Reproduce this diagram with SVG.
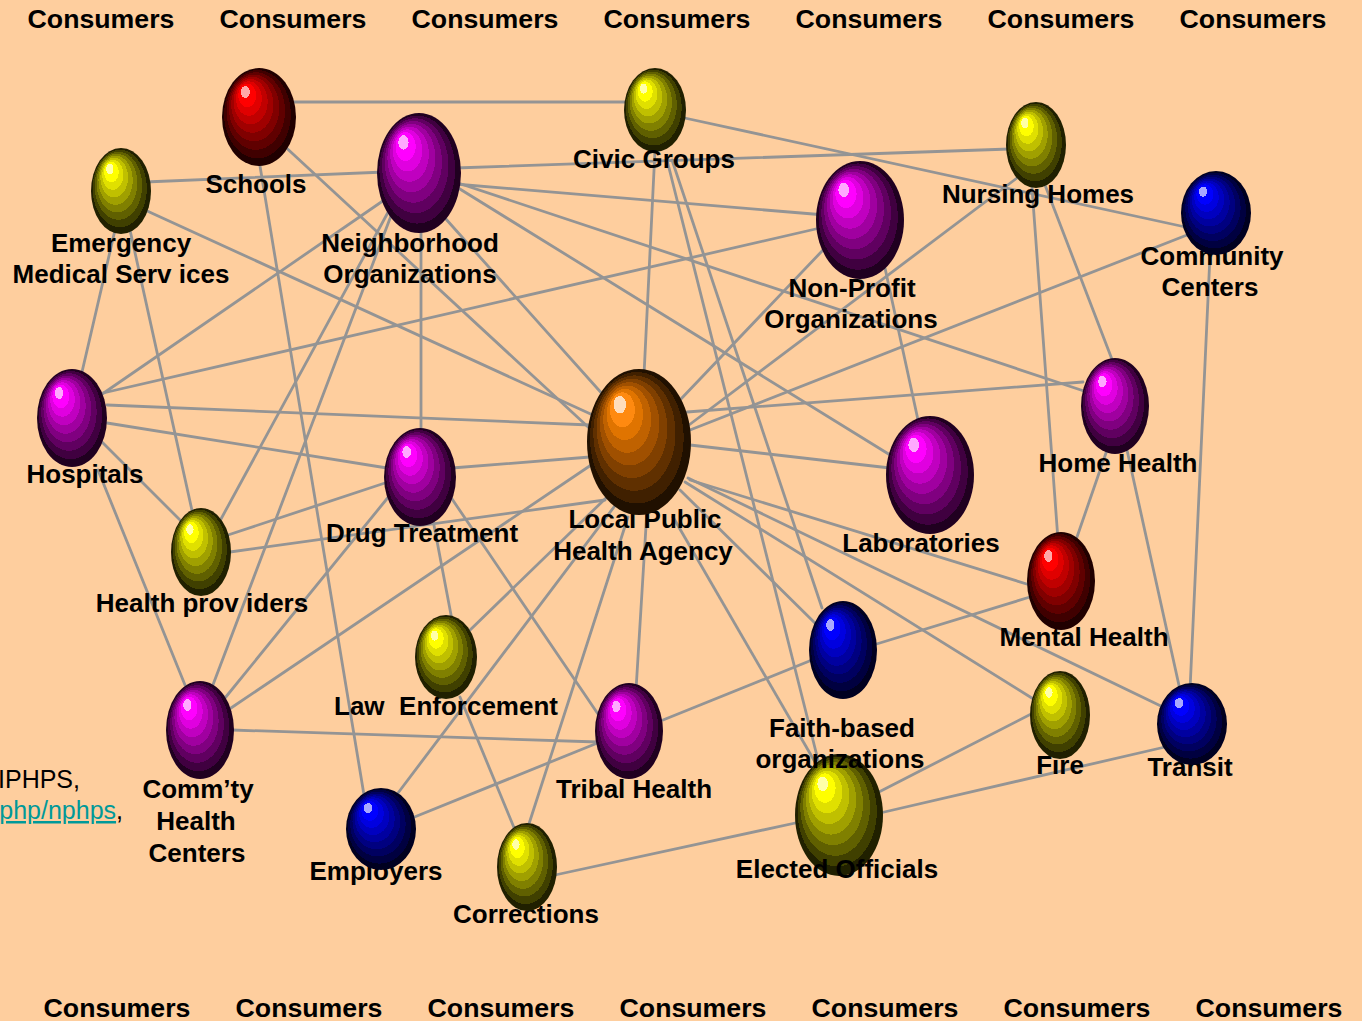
<svg xmlns="http://www.w3.org/2000/svg" width="1362" height="1021" viewBox="0 0 1362 1021">
<style>
.c{stroke:#949494;stroke-width:2.8;stroke-linecap:round;fill:none}
.t{font-family:"Liberation Sans",Arial,sans-serif;font-weight:bold;font-size:26px;text-anchor:middle;fill:#000}
.k{font-family:"Liberation Sans",Arial,sans-serif;font-weight:bold;font-size:26.7px;text-anchor:middle;fill:#000}
.n{font-family:"Liberation Sans",Arial,sans-serif;font-size:25px;text-anchor:end}
</style>
<defs>
<radialGradient id="gY" cx="0.5" cy="0.5" r="0.5" fx="0.29" fy="0.21">
<stop offset="0" stop-color="#FFFFA8"/><stop offset="0.12" stop-color="#FFFFA8"/>
<stop offset="0.12" stop-color="#FFFF00"/><stop offset="0.24" stop-color="#FFFF00"/>
<stop offset="0.24" stop-color="#E0E000"/><stop offset="0.35" stop-color="#E0E000"/>
<stop offset="0.35" stop-color="#C0C000"/><stop offset="0.46" stop-color="#C0C000"/>
<stop offset="0.46" stop-color="#A0A000"/><stop offset="0.57" stop-color="#A0A000"/>
<stop offset="0.57" stop-color="#808000"/><stop offset="0.68" stop-color="#808000"/>
<stop offset="0.68" stop-color="#606000"/><stop offset="0.79" stop-color="#606000"/>
<stop offset="0.79" stop-color="#404000"/><stop offset="0.9" stop-color="#404000"/>
<stop offset="0.9" stop-color="#202000"/><stop offset="1" stop-color="#202000"/>
</radialGradient>
<radialGradient id="gP" cx="0.5" cy="0.5" r="0.5" fx="0.29" fy="0.21">
<stop offset="0" stop-color="#FFA8FF"/><stop offset="0.12" stop-color="#FFA8FF"/>
<stop offset="0.12" stop-color="#FF00FF"/><stop offset="0.24" stop-color="#FF00FF"/>
<stop offset="0.24" stop-color="#E000E0"/><stop offset="0.35" stop-color="#E000E0"/>
<stop offset="0.35" stop-color="#C000C0"/><stop offset="0.46" stop-color="#C000C0"/>
<stop offset="0.46" stop-color="#A000A0"/><stop offset="0.57" stop-color="#A000A0"/>
<stop offset="0.57" stop-color="#800080"/><stop offset="0.68" stop-color="#800080"/>
<stop offset="0.68" stop-color="#600060"/><stop offset="0.79" stop-color="#600060"/>
<stop offset="0.79" stop-color="#400040"/><stop offset="0.9" stop-color="#400040"/>
<stop offset="0.9" stop-color="#200020"/><stop offset="1" stop-color="#200020"/>
</radialGradient>
<radialGradient id="gR" cx="0.5" cy="0.5" r="0.5" fx="0.29" fy="0.21">
<stop offset="0" stop-color="#FFA8A8"/><stop offset="0.12" stop-color="#FFA8A8"/>
<stop offset="0.12" stop-color="#FF0000"/><stop offset="0.24" stop-color="#FF0000"/>
<stop offset="0.24" stop-color="#E00000"/><stop offset="0.35" stop-color="#E00000"/>
<stop offset="0.35" stop-color="#C00000"/><stop offset="0.46" stop-color="#C00000"/>
<stop offset="0.46" stop-color="#A00000"/><stop offset="0.57" stop-color="#A00000"/>
<stop offset="0.57" stop-color="#800000"/><stop offset="0.68" stop-color="#800000"/>
<stop offset="0.68" stop-color="#600000"/><stop offset="0.79" stop-color="#600000"/>
<stop offset="0.79" stop-color="#400000"/><stop offset="0.9" stop-color="#400000"/>
<stop offset="0.9" stop-color="#200000"/><stop offset="1" stop-color="#200000"/>
</radialGradient>
<radialGradient id="gB" cx="0.5" cy="0.5" r="0.5" fx="0.29" fy="0.21">
<stop offset="0" stop-color="#A8A8FF"/><stop offset="0.12" stop-color="#A8A8FF"/>
<stop offset="0.12" stop-color="#0000FF"/><stop offset="0.24" stop-color="#0000FF"/>
<stop offset="0.24" stop-color="#0000E0"/><stop offset="0.35" stop-color="#0000E0"/>
<stop offset="0.35" stop-color="#0000C0"/><stop offset="0.46" stop-color="#0000C0"/>
<stop offset="0.46" stop-color="#0000A0"/><stop offset="0.57" stop-color="#0000A0"/>
<stop offset="0.57" stop-color="#000080"/><stop offset="0.68" stop-color="#000080"/>
<stop offset="0.68" stop-color="#000060"/><stop offset="0.79" stop-color="#000060"/>
<stop offset="0.79" stop-color="#000040"/><stop offset="0.9" stop-color="#000040"/>
<stop offset="0.9" stop-color="#000020"/><stop offset="1" stop-color="#000020"/>
</radialGradient>
<radialGradient id="gO" cx="0.5" cy="0.5" r="0.5" fx="0.29" fy="0.21">
<stop offset="0" stop-color="#FFDDBB"/><stop offset="0.12" stop-color="#FFDDBB"/>
<stop offset="0.12" stop-color="#FF8A10"/><stop offset="0.24" stop-color="#FF8A10"/>
<stop offset="0.24" stop-color="#E07400"/><stop offset="0.35" stop-color="#E07400"/>
<stop offset="0.35" stop-color="#C06200"/><stop offset="0.46" stop-color="#C06200"/>
<stop offset="0.46" stop-color="#A05000"/><stop offset="0.57" stop-color="#A05000"/>
<stop offset="0.57" stop-color="#804000"/><stop offset="0.68" stop-color="#804000"/>
<stop offset="0.68" stop-color="#603000"/><stop offset="0.79" stop-color="#603000"/>
<stop offset="0.79" stop-color="#402000"/><stop offset="0.9" stop-color="#402000"/>
<stop offset="0.9" stop-color="#201000"/><stop offset="1" stop-color="#201000"/>
</radialGradient>
</defs>
<rect x="0" y="0" width="1362" height="1021" fill="#FECE9E"/>

<g id="consumers-top">
<text class="k" x="101" y="27.5">Consumers</text>
<text class="k" x="293" y="27.5">Consumers</text>
<text class="k" x="485" y="27.5">Consumers</text>
<text class="k" x="677" y="27.5">Consumers</text>
<text class="k" x="869" y="27.5">Consumers</text>
<text class="k" x="1061" y="27.5">Consumers</text>
<text class="k" x="1253" y="27.5">Consumers</text>
</g>
<g id="consumers-bottom">
<text class="k" x="117" y="1017">Consumers</text>
<text class="k" x="309" y="1017">Consumers</text>
<text class="k" x="501" y="1017">Consumers</text>
<text class="k" x="693" y="1017">Consumers</text>
<text class="k" x="885" y="1017">Consumers</text>
<text class="k" x="1077" y="1017">Consumers</text>
<text class="k" x="1269" y="1017">Consumers</text>
</g>
<g id="source">
<text class="n" x="80" y="788" fill="#000">IPHPS,</text>
<text class="n" x="123" y="819" fill="#009999" text-decoration="underline">php/nphps<tspan fill="#000">,</tspan></text>
</g>

<g id="connectors">
<line class="c" x1="290" y1="102" x2="630" y2="102"/>
<line class="c" x1="259" y1="160" x2="364" y2="795"/>
<line class="c" x1="280" y1="142" x2="600" y2="438"/>
<line class="c" x1="145" y1="182" x2="385" y2="172"/>
<line class="c" x1="115" y1="230" x2="82" y2="372"/>
<line class="c" x1="130" y1="230" x2="193" y2="515"/>
<line class="c" x1="145" y1="210" x2="595" y2="416"/>
<line class="c" x1="390" y1="196" x2="95" y2="399"/>
<line class="c" x1="392" y1="205" x2="215" y2="530"/>
<line class="c" x1="397" y1="200" x2="211" y2="690"/>
<line class="c" x1="421" y1="225" x2="421" y2="435"/>
<line class="c" x1="445" y1="218" x2="605" y2="397"/>
<line class="c" x1="455" y1="168" x2="1010" y2="149"/>
<line class="c" x1="455" y1="184" x2="825" y2="215"/>
<line class="c" x1="455" y1="182" x2="1090" y2="393"/>
<line class="c" x1="455" y1="186" x2="895" y2="458"/>
<line class="c" x1="680" y1="117" x2="1190" y2="228"/>
<line class="c" x1="655" y1="150" x2="644" y2="375"/>
<line class="c" x1="667" y1="160" x2="818" y2="760"/>
<line class="c" x1="672" y1="160" x2="822" y2="608"/>
<line class="c" x1="1017" y1="178" x2="685" y2="428"/>
<line class="c" x1="1032" y1="188" x2="1058" y2="540"/>
<line class="c" x1="1045" y1="185" x2="1113" y2="362"/>
<line class="c" x1="1187" y1="235" x2="690" y2="430"/>
<line class="c" x1="1210" y1="255" x2="1190" y2="690"/>
<line class="c" x1="820" y1="228" x2="103" y2="393"/>
<line class="c" x1="823" y1="250" x2="680" y2="400"/>
<line class="c" x1="885" y1="268" x2="918" y2="420"/>
<line class="c" x1="1107" y1="450" x2="1077" y2="537"/>
<line class="c" x1="1127" y1="450" x2="1180" y2="690"/>
<line class="c" x1="1083" y1="382" x2="687" y2="412"/>
<line class="c" x1="107" y1="405" x2="590" y2="425"/>
<line class="c" x1="107" y1="423" x2="387" y2="468"/>
<line class="c" x1="100" y1="440" x2="182" y2="522"/>
<line class="c" x1="98" y1="470" x2="185" y2="685"/>
<line class="c" x1="228" y1="535" x2="388" y2="482"/>
<line class="c" x1="230" y1="552" x2="605" y2="500"/>
<line class="c" x1="452" y1="468" x2="590" y2="457"/>
<line class="c" x1="433" y1="520" x2="452" y2="620"/>
<line class="c" x1="450" y1="496" x2="598" y2="714"/>
<line class="c" x1="390" y1="495" x2="225" y2="698"/>
<line class="c" x1="600" y1="459" x2="228" y2="710"/>
<line class="c" x1="607" y1="497" x2="468" y2="632"/>
<line class="c" x1="617" y1="503" x2="398" y2="793"/>
<line class="c" x1="628" y1="517" x2="527" y2="830"/>
<line class="c" x1="647" y1="510" x2="636" y2="690"/>
<line class="c" x1="673" y1="517" x2="815" y2="762"/>
<line class="c" x1="680" y1="490" x2="820" y2="628"/>
<line class="c" x1="685" y1="482" x2="1035" y2="700"/>
<line class="c" x1="688" y1="478" x2="1165" y2="708"/>
<line class="c" x1="690" y1="480" x2="1030" y2="585"/>
<line class="c" x1="690" y1="445" x2="890" y2="468"/>
<line class="c" x1="663" y1="720" x2="812" y2="660"/>
<line class="c" x1="870" y1="646" x2="1030" y2="597"/>
<line class="c" x1="232" y1="730" x2="598" y2="742"/>
<line class="c" x1="412" y1="818" x2="600" y2="742"/>
<line class="c" x1="460" y1="697" x2="515" y2="830"/>
<line class="c" x1="555" y1="875" x2="800" y2="822"/>
<line class="c" x1="875" y1="794" x2="1035" y2="712"/>
<line class="c" x1="880" y1="813" x2="1165" y2="747"/>
</g>

<g id="schools"><text class="t" x="256" y="193">Schools</text><ellipse cx="259" cy="117" rx="37" ry="49" fill="url(#gR)"/></g>
<g id="civic-groups"><ellipse cx="655" cy="110" rx="31" ry="42" fill="url(#gY)"/><text class="t" x="654" y="168">Civic Groups</text></g>
<g id="nursing-homes"><text class="t" x="1038" y="203">Nursing Homes</text><ellipse cx="1036" cy="145" rx="30" ry="43" fill="url(#gY)"/></g>
<g id="community-centers"><text class="t" x="1212" y="265">Community</text><text class="t" x="1210" y="296">Centers</text><ellipse cx="1216" cy="213" rx="35" ry="42" fill="url(#gB)"/></g>
<g id="ems"><text class="t" x="121" y="252">Emergency</text><text class="t" x="121" y="283">Medical Serv ices</text><ellipse cx="121" cy="191" rx="30" ry="43" fill="url(#gY)"/></g>
<g id="neighborhood"><text class="t" x="410" y="252">Neighborhood</text><text class="t" x="410" y="283">Organizations</text><ellipse cx="419" cy="173" rx="42" ry="60" fill="url(#gP)"/></g>
<g id="non-profit"><text class="t" x="852" y="297">Non-Profit</text><text class="t" x="851" y="328">Organizations</text><ellipse cx="860" cy="220" rx="44" ry="59" fill="url(#gP)"/></g>
<g id="hospitals"><text class="t" x="85" y="483">Hospitals</text><ellipse cx="72" cy="418" rx="35" ry="49" fill="url(#gP)"/></g>
<g id="health-providers"><text class="t" x="202" y="612">Health prov iders</text><ellipse cx="201" cy="552" rx="30" ry="44" fill="url(#gY)"/></g>
<g id="drug-treatment"><text class="t" x="422" y="542">Drug Treatment</text><ellipse cx="420" cy="477" rx="36" ry="49" fill="url(#gP)"/></g>
<g id="lpha"><text class="t" x="645" y="528">Local Public</text><text class="t" x="643" y="560">Health Agency</text><ellipse cx="639" cy="442" rx="52" ry="73" fill="url(#gO)"/></g>
<g id="laboratories"><text class="t" x="921" y="552">Laboratories</text><ellipse cx="930" cy="475" rx="44" ry="59" fill="url(#gP)"/></g>
<g id="home-health"><text class="t" x="1118" y="472">Home Health</text><ellipse cx="1115" cy="406" rx="34" ry="48" fill="url(#gP)"/></g>
<g id="mental-health"><text class="t" x="1084" y="646">Mental Health</text><ellipse cx="1061" cy="581" rx="34" ry="49" fill="url(#gR)"/></g>
<g id="law-enforcement"><text class="t" x="446" y="715" xml:space="preserve">Law  Enforcement</text><ellipse cx="446" cy="657" rx="31" ry="42" fill="url(#gY)"/></g>
<g id="chc"><text class="t" x="198" y="798">Comm’ty</text><text class="t" x="196" y="830">Health</text><text class="t" x="197" y="862">Centers</text><ellipse cx="200" cy="730" rx="34" ry="49" fill="url(#gP)"/></g>
<g id="tribal-health"><text class="t" x="634" y="798">Tribal Health</text><ellipse cx="629" cy="731" rx="34" ry="48" fill="url(#gP)"/></g>
<g id="employers"><text class="t" x="376" y="880">Employers</text><ellipse cx="381" cy="829" rx="35" ry="41" fill="url(#gB)"/></g>
<g id="corrections"><text class="t" x="526" y="923">Corrections</text><ellipse cx="527" cy="867" rx="30" ry="44" fill="url(#gY)"/></g>
<g id="elected-officials"><ellipse cx="839" cy="815" rx="44" ry="61" fill="url(#gY)"/><text class="t" x="837" y="878">Elected Officials</text></g>
<g id="faith-based"><ellipse cx="843" cy="650" rx="34" ry="49" fill="url(#gB)"/><text class="t" x="842" y="737">Faith-based</text><text class="t" x="840" y="768">organizations</text></g>
<g id="fire"><text class="t" x="1060" y="774">Fire</text><ellipse cx="1060" cy="715" rx="30" ry="44" fill="url(#gY)"/></g>
<g id="transit"><text class="t" x="1190" y="776">Transit</text><ellipse cx="1192" cy="724" rx="35" ry="41" fill="url(#gB)"/></g>
</svg>
